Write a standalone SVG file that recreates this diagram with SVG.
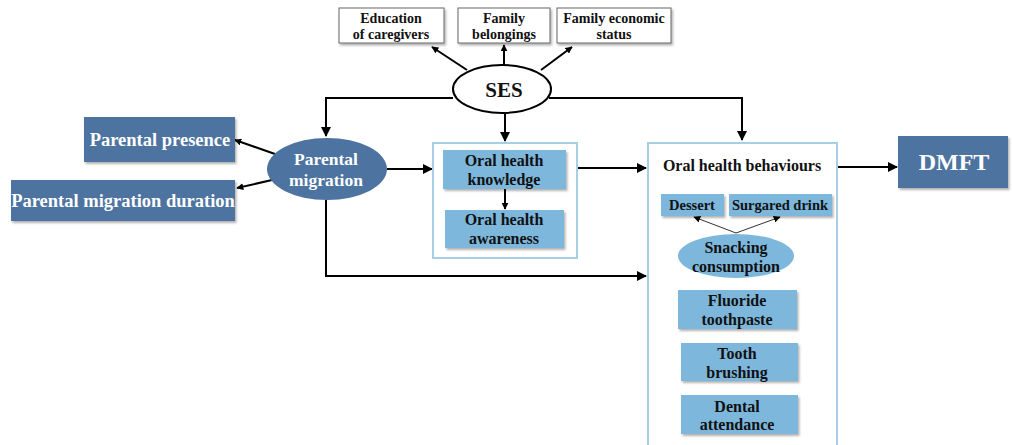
<svg xmlns="http://www.w3.org/2000/svg" width="1012" height="445" viewBox="0 0 1012 445">
  <defs>
    <marker id="arr" viewBox="0 0 10 10" refX="9" refY="5" markerWidth="7" markerHeight="7" orient="auto" markerUnits="userSpaceOnUse">
      <path d="M0,0 L10,5 L0,10 z" fill="#000"/>
    </marker>
    <marker id="arrBig" viewBox="0 0 10 10" refX="9" refY="5" markerWidth="10" markerHeight="10" orient="auto" markerUnits="userSpaceOnUse">
      <path d="M0,0 L10,5 L0,10 z" fill="#000"/>
    </marker>
    <filter id="shadow" x="-10%" y="-10%" width="130%" height="140%">
      <feDropShadow dx="1.5" dy="2" stdDeviation="1" flood-color="#000" flood-opacity="0.3"/>
    </filter>
  </defs>
  <style>
    text { font-family: "Liberation Serif", "DejaVu Serif", "Times New Roman", serif; font-weight: bold; text-anchor: middle; }
    .dark { fill: #4d73a0; filter: url(#shadow); }
    .light { fill: #7db7dc; filter: url(#shadow); }
    .frame { fill: #fff; stroke: #a9cfe6; stroke-width: 2; }
    .white-box { fill: #fff; stroke: #666; stroke-width: 1; filter: url(#shadow); }
    .wt { fill: #fff; }
    .bk { fill: #111; }
    .conn { stroke: #000; stroke-width: 2; fill: none; }
    .thin { stroke: #333; stroke-width: 1; fill: none; }
  </style>

  <rect width="1012" height="445" fill="#fff"/>

  <!-- connectors -->
  <g id="connectors">
    <line class="conn" x1="467" y1="70" x2="432" y2="47" marker-end="url(#arr)"/>
    <line class="conn" x1="504" y1="65" x2="504" y2="45" marker-end="url(#arr)"/>
    <line class="conn" x1="541" y1="70" x2="572" y2="47" marker-end="url(#arr)"/>
    <polyline class="conn" points="453,98 326,98 326,136" marker-end="url(#arrBig)"/>
    <polyline class="conn" points="549,98 742,98 742,140" marker-end="url(#arrBig)"/>
    <line class="conn" x1="505" y1="113" x2="505" y2="141" marker-end="url(#arrBig)"/>
    <line class="conn" x1="275" y1="154" x2="235" y2="140" marker-end="url(#arr)"/>
    <line class="conn" x1="272" y1="180" x2="237" y2="188" marker-end="url(#arr)"/>
    <line class="conn" x1="387" y1="169" x2="432" y2="169" marker-end="url(#arrBig)"/>
    <line class="conn" x1="578" y1="168" x2="646" y2="168" marker-end="url(#arrBig)"/>
    <line class="conn" x1="838" y1="167" x2="897" y2="167" marker-end="url(#arrBig)"/>
    <polyline class="conn" points="326,200 326,276 646,276" marker-end="url(#arrBig)"/>
  </g>

  <!-- top indicators -->
  <g id="education">
    <rect class="white-box" x="339" y="8" width="105" height="35"/>
    <text class="bk" x="391" y="23" font-size="14">Education</text>
    <text class="bk" x="391" y="39" font-size="14">of caregivers</text>
  </g>
  <g id="belongings">
    <rect class="white-box" x="458" y="8" width="92" height="35"/>
    <text class="bk" x="504" y="23" font-size="14">Family</text>
    <text class="bk" x="504" y="39" font-size="14">belongings</text>
  </g>
  <g id="economic">
    <rect class="white-box" x="557" y="8" width="114" height="35"/>
    <text class="bk" x="614" y="23" font-size="14">Family economic</text>
    <text class="bk" x="614" y="39" font-size="14">status</text>
  </g>

  <g id="ses">
    <ellipse cx="502" cy="89" rx="49" ry="24" fill="#fff" stroke="#000" stroke-width="2"/>
    <text class="bk" x="504" y="97" font-size="21">SES</text>
  </g>

  <g id="parental-presence">
    <rect class="dark" x="84" y="117" width="151" height="45"/>
    <text class="wt" x="160" y="146" font-size="18.5">Parental presence</text>
  </g>
  <g id="migration-duration">
    <rect class="dark" x="11" y="180" width="224" height="41"/>
    <text class="wt" x="123" y="207" font-size="18.5">Parental migration duration</text>
  </g>

  <g id="parental-migration">
    <ellipse cx="327" cy="169" rx="60" ry="31" fill="#4d73a0"/>
    <text class="wt" x="326" y="165" font-size="17.5">Parental</text>
    <text class="wt" x="326" y="186" font-size="17.5">migration</text>
  </g>

  <g id="knowledge-group">
    <rect class="frame" x="433" y="143" width="144" height="115"/>
    <g id="knowledge">
      <rect class="light" x="443" y="150" width="123" height="39"/>
      <text class="bk" x="504" y="166" font-size="16">Oral health</text>
      <text class="bk" x="504" y="185" font-size="16">knowledge</text>
    </g>
    <g id="awareness">
      <rect class="light" x="445" y="210" width="119" height="38"/>
      <text class="bk" x="504" y="225" font-size="16">Oral health</text>
      <text class="bk" x="504" y="244" font-size="16">awareness</text>
    </g>
    <line class="conn" x1="505" y1="189" x2="505" y2="209" marker-end="url(#arr)"/>
  </g>

  <g id="behaviours-group">
    <rect class="frame" x="648" y="143" width="189" height="310"/>
    <text class="bk" x="742" y="171" font-size="16">Oral health behaviours</text>
    <g id="dessert">
      <rect class="light" x="661" y="194" width="63" height="22"/>
      <text class="bk" x="692" y="210" font-size="14.5">Dessert</text>
    </g>
    <g id="drink">
      <rect class="light" x="729" y="194" width="103" height="22"/>
      <text class="bk" x="780" y="210" font-size="14.5">Surgared drink</text>
    </g>
    <line class="thin" x1="736" y1="233" x2="694" y2="217" marker-end="url(#arr)"/>
    <line class="thin" x1="736" y1="233" x2="780" y2="217" marker-end="url(#arr)"/>
    <g id="snacking">
      <ellipse cx="736" cy="256" rx="58" ry="22" fill="#7db7dc"/>
      <text class="bk" x="736" y="253" font-size="16">Snacking</text>
      <text class="bk" x="736" y="272" font-size="16">consumption</text>
    </g>
    <g id="fluoride">
      <rect class="light" x="678" y="290" width="119" height="39"/>
      <text class="bk" x="737" y="306" font-size="16">Fluoride</text>
      <text class="bk" x="737" y="325" font-size="16">toothpaste</text>
    </g>
    <g id="brushing">
      <rect class="light" x="681" y="343" width="117" height="38"/>
      <text class="bk" x="737" y="359" font-size="16">Tooth</text>
      <text class="bk" x="737" y="378" font-size="16">brushing</text>
    </g>
    <g id="dental">
      <rect class="light" x="681" y="395" width="117" height="39"/>
      <text class="bk" x="737" y="412" font-size="16">Dental</text>
      <text class="bk" x="737" y="430" font-size="16">attendance</text>
    </g>
  </g>

  <g id="dmft">
    <rect class="dark" x="898" y="136" width="110" height="52"/>
    <text class="wt" x="954" y="170" font-size="24">DMFT</text>
  </g>
</svg>
